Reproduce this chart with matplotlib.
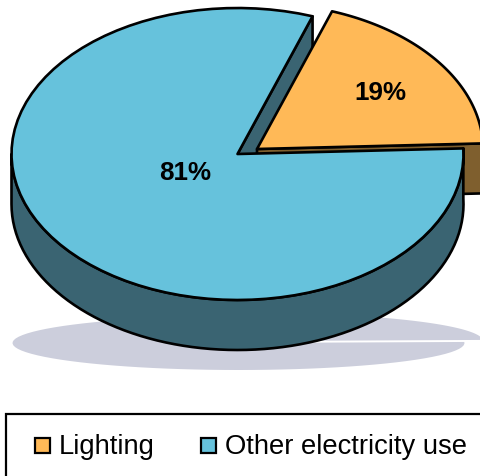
import numpy as np
import matplotlib
matplotlib.use("Agg")
import matplotlib.pyplot as plt
from matplotlib.patches import Polygon, Rectangle

labels = ["Lighting", "Other electricity use"]
shares = [19, 81]
pct_labels = ["19%", "81%"]

top_colors = ["#FFB957", "#66C2DC"]
side_colors = ["#7F5F2E", "#3A6472"]
shadow_color = "#CCCEDC"

plt.rcParams["font.family"] = ["Liberation Sans", "DejaVu Sans"]

# pie geometry in pixels
rx, ry = 226, 146
depth = 50
start = 2.2
blue_c = (237.5, 154)
orange_c = (257, 149)
edge_w = 1.9

# angles come from the shares
sweep = [s / sum(shares) * 360 for s in shares]
orange_a = (start, start + sweep[0])
blue_a = (orange_a[1], orange_a[1] + sweep[1])


def arc(c, a0, a1, rx=rx, ry=ry, dy=0, n=80):
    t = np.radians(np.linspace(a0, a1, n))
    return np.column_stack([c[0] + rx * np.cos(t), c[1] - ry * np.sin(t) + dy])


def sector(ax, c, a, color, rx=rx, ry=ry, lw=edge_w, ec="black"):
    pts = np.vstack([[c], arc(c, a[0], a[1], rx, ry)])
    ax.add_patch(Polygon(pts, closed=True, fc=color, ec=ec, lw=lw, joinstyle="round"))


def wall(ax, c, angle, color):
    p = arc(c, angle, angle, n=1)[0]
    pts = [c, p, (p[0], p[1] + depth), (c[0], c[1] + depth)]
    ax.add_patch(Polygon(pts, closed=True, fc=color, ec="black", lw=edge_w, joinstyle="round"))


fig = plt.figure(figsize=(4.81, 4.76), dpi=100)
ax = fig.add_axes([0, 0, 1, 1])
ax.set_xlim(0, 481)
ax.set_ylim(476, 0)
ax.axis("off")

# shadow on the floor
sector(ax, (257, 341), orange_a, shadow_color, 226, 28, lw=0, ec="none")
sector(ax, (238.5, 343), blue_a, shadow_color, 226, 27, lw=0, ec="none")

# cut faces behind the tops
wall(ax, blue_c, blue_a[0], side_colors[1])
wall(ax, orange_c, orange_a[0], side_colors[0])

sector(ax, orange_c, orange_a, top_colors[0])

# outer rim of the big slice
rim_top = arc(blue_c, 180, blue_a[1])
rim_low = arc(blue_c, blue_a[1], 180, dy=depth)
ax.add_patch(Polygon(np.vstack([rim_top, rim_low]), closed=True, fc=side_colors[1],
                     ec="black", lw=edge_w, joinstyle="round"))

sector(ax, blue_c, blue_a, top_colors[1])

ax.text(380, 93.5, pct_labels[0], fontsize=18.7, fontweight="bold", ha="center", va="center")
ax.text(185, 172.5, pct_labels[1], fontsize=18.7, fontweight="bold", ha="center", va="center")

# legend box runs off the right and bottom of the image
ax.add_patch(Rectangle((6.5, 413.5), 520, 90, fc="white", ec="black", lw=1.6))
for x, name, color in zip([35.5, 201.5], labels, top_colors):
    ax.add_patch(Rectangle((x, 437.5), 15, 15.5, fc=color, ec="black", lw=1.6))
    ax.text(x + 23.5, 447.5, name, fontsize=19.7, ha="left", va="center", color="black")

fig.savefig("out.png", dpi=100)
